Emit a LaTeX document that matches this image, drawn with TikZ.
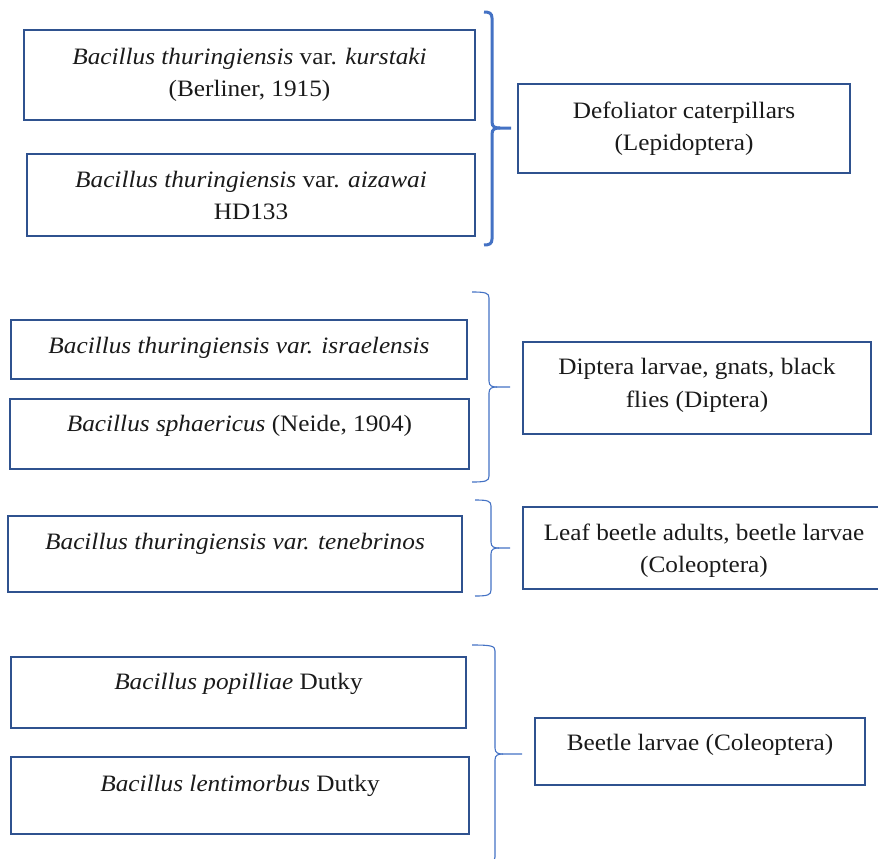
\documentclass[tikz,border=0pt]{standalone}
\usepackage{fontspec}
\setmainfont{Liberation Serif}[FakeStretch=1.075]
\definecolor{boxblue}{HTML}{2F528F}
\definecolor{braceblue}{HTML}{4472C4}
\definecolor{ink}{HTML}{1A1A1A}

% box from left/top/right/bottom (units of 1pt, y downwards)
\newcommand\frambox[5]{%
  \node[framebox, minimum width={#4-#2}, minimum height={#5-#3}]
    (#1) at ({(#2+#4)/2},{(#3+#5)/2}) {};}
% right curly brace: name, x of arm ends, x of spine, top y, tip y, bottom y, tip x
\newcommand\curlybrace[8]{%
  \coordinate (#1tip) at (#7,#5);
  \draw[#8] (#2,#4) .. controls ({#3-3},#4) and (#3,{#4+1}) .. (#3,{#4+6})
    -- (#3,{#5-6}) .. controls (#3,{#5-1}) and ({#3+3},#5) .. ({#3+8},#5)
    -- (#1tip);
  \draw[#8] ({#3+8},#5) .. controls ({#3+3},#5) and (#3,{#5+1}) .. (#3,{#5+6})
    -- (#3,{#6-6}) .. controls (#3,{#6-1}) and ({#3-3},#6) .. (#2,#6);}

\begin{document}
\begin{tikzpicture}[x=1pt, y=-1pt,
  framebox/.style={draw=boxblue, line width=2pt, inner sep=0pt, outer sep=0pt},
  label text/.style={anchor=base, align=center, text=ink, inner sep=0pt,
    font=\fontsize{23.5}{32.5}\selectfont},
  brace thick/.style={draw=braceblue, line width=3pt},
  brace thin/.style={draw=braceblue, line width=1.1pt}]
\useasboundingbox (0,0) rectangle (878,859);
\clip (0,0) rectangle (878,859);

% bacteria boxes
\frambox{kurstaki}{24}{30}{475}{120}
\frambox{aizawai}{27}{154}{475}{236}
\frambox{israel}{11}{320}{467}{379}
\frambox{sphaer}{10}{399}{469}{469}
\frambox{teneb}{8}{516}{462}{592}
\frambox{popil}{11}{657}{466}{728}
\frambox{lenti}{11}{757}{469}{834}
% target insect boxes
\frambox{lepi}{518}{84}{850}{173}
\frambox{dipt}{523}{342}{871}{434}
\frambox{coleo}{523}{507}{885}{589}
\frambox{beetle}{535}{718}{865}{785}

% labels (base anchor sits on the last line)
\node[label text] (kurstakiT) at ([yshift=-66.5pt]kurstaki.north)
  {\textit{Bacillus thuringiensis} var. \textit{kurstaki}\\(Berliner, 1915)};
\node[label text] (aizawaiT) at ([yshift=-65.5pt]aizawai.north)
  {\textit{Bacillus thuringiensis} var. \textit{aizawai}\\HD133};
\node[label text] (israelT) at ([yshift=-33pt]israel.north)
  {\textit{Bacillus thuringiensis var. israelensis}};
\node[label text] (sphaerT) at ([yshift=-32pt]sphaer.north)
  {\textit{Bacillus sphaericus} (Neide, 1904)};
\node[label text] (tenebT) at ([yshift=-33pt]teneb.north)
  {\textit{Bacillus thuringiensis var. tenebrinos}};
\node[label text] (popilT) at ([yshift=-32.5pt]popil.north)
  {\textit{Bacillus popilliae} Dutky};
\node[label text] (lentiT) at ([yshift=-34.5pt]lenti.north)
  {\textit{Bacillus lentimorbus} Dutky};
\node[label text] (lepiT) at ([yshift=-66.5pt]lepi.north)
  {Defoliator caterpillars\\(Lepidoptera)};
\node[label text] (diptT) at ([yshift=-65pt]dipt.north)
  {Diptera larvae, gnats, black\\flies (Diptera)};
\node[label text] (coleoT) at ([yshift=-65.5pt]coleo.north)
  {Leaf beetle adults, beetle larvae\\(Coleoptera)};
\node[label text] (beetleT) at ([yshift=-32pt]beetle.north)
  {Beetle larvae (Coleoptera)};

% braces grouping the bacteria by target
\curlybrace{b1}{484}{492}{12}{128}{245}{511}{brace thick}
\curlybrace{b2}{472}{489}{292}{387}{482}{510}{brace thin}
\curlybrace{b3}{475}{491}{500}{548}{596}{510}{brace thin}
\curlybrace{b4}{472}{495}{645}{754}{863}{522}{brace thin}
\end{tikzpicture}
\end{document}
